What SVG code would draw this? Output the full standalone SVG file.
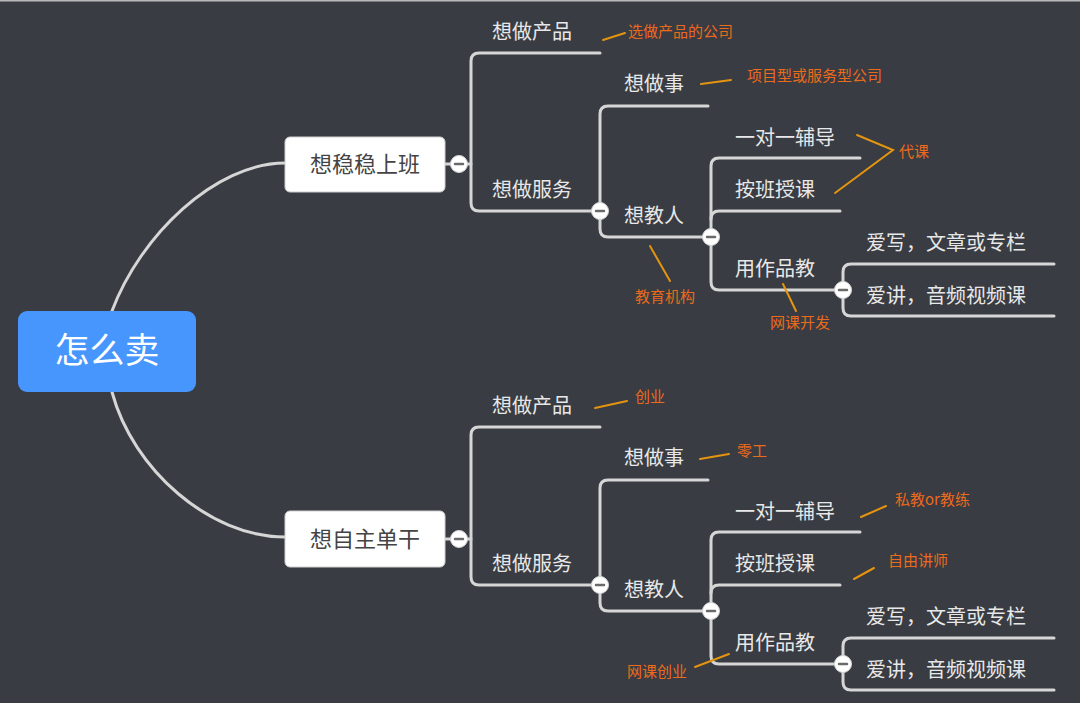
<svg xmlns="http://www.w3.org/2000/svg" width="1080" height="703" viewBox="0 0 1080 703">
<style>
.bg{fill:#393c42}
.ln{fill:none;stroke:#d6d6d6;stroke-width:3;stroke-linecap:round}
.an{fill:none;stroke:#e5940f;stroke-width:2;stroke-linecap:round}
.t{font-family:"Noto Sans CJK SC","Noto Sans",sans-serif;font-size:20px;fill:#e8e8e8}
.a{font-family:"Noto Sans CJK SC","Noto Sans",sans-serif;font-size:15px;fill:#ec6a1c}
.bx{fill:#ffffff;stroke:#cfcfcf;stroke-width:1}
.bt{font-family:"Noto Sans CJK SC","Noto Sans",sans-serif;font-size:22px;fill:#444444;text-anchor:middle}
.cb{fill:#ffffff;stroke:#d6d6d6;stroke-width:1}
.cm{stroke:#6a6a6a;stroke-width:2.5;stroke-linecap:round}
</style>
<defs>
<g id="btn"><circle class="cb" r="8.5"/><line class="cm" x1="-4" y1="0" x2="4" y2="0"/></g>
</defs>
<rect class="bg" x="0" y="0" width="1080" height="703"/>
<rect x="0" y="0" width="1080" height="1.5" fill="#b9b9b9"/>

<g id="connectors">
<path class="ln" d="M112,311 C140,236 215,163 285,163"/>
<path class="ln" d="M112,392 C133,470 210,537 285,537"/>
<!-- upper -->
<path class="ln" d="M445,164 H471"/>
<path class="ln" d="M600,53 H479 Q471,53 471,61 V203 Q471,211 479,211 H600"/>
<path class="ln" d="M708,106 H608 Q600,106 600,114 V229 Q600,237 608,237 H711"/>
<path class="ln" d="M860,158 H719 Q711,158 711,166 V282 Q711,290 719,290 H843"/>
<path class="ln" d="M711,219 Q711,211 719,211 H840"/>
<path class="ln" d="M1054,264 H851 Q843,264 843,272 V308 Q843,316 851,316 H1054"/>
<!-- lower -->
<path class="ln" d="M445,539 H471"/>
<path class="ln" d="M600,427 H479 Q471,427 471,435 V577 Q471,585 479,585 H600"/>
<path class="ln" d="M708,480 H608 Q600,480 600,488 V603 Q600,611 608,611 H711"/>
<path class="ln" d="M860,532 H719 Q711,532 711,540 V656 Q711,664 719,664 H843"/>
<path class="ln" d="M711,593 Q711,585 719,585 H840"/>
<path class="ln" d="M1054,638 H851 Q843,638 843,646 V682 Q843,690 851,690 H1054"/>
<!-- annotation lines upper -->
<path class="an" d="M603,40 L625,33"/>
<path class="an" d="M701,84 L731,80"/>
<path class="an" d="M857,135 L893,150 L835,193"/>
<path class="an" d="M650,246 L670,281"/>
<path class="an" d="M783,284 L796,311"/>
<!-- annotation lines lower -->
<path class="an" d="M595,408 L627,401"/>
<path class="an" d="M700,459 L729,454"/>
<path class="an" d="M861,517 L886,506"/>
<path class="an" d="M854,579 L874,568"/>
<path class="an" d="M695,667 L729,654"/>
</g>

<g id="root">
<rect x="18" y="311" width="178" height="81" rx="9" fill="#4696fd"/>
<text x="107" y="363" font-family="'Noto Sans CJK SC','Noto Sans',sans-serif" font-size="35" fill="#ffffff" text-anchor="middle">怎么卖</text>
</g>

<g id="n-up">
<rect class="bx" x="285" y="137" width="160" height="55" rx="5"/>
<text class="bt" x="365" y="172">想稳稳上班</text>
<use href="#btn" x="459" y="164"/>
</g>
<g id="n-up-prod"><text class="t" x="492" y="38.6">想做产品</text></g>
<g id="n-up-prod-note"><text class="a" x="628" y="36.7">选做产品的公司</text></g>
<g id="n-up-serv"><text class="t" x="492" y="196.6">想做服务</text><use href="#btn" x="600" y="211"/></g>
<g id="n-up-do"><text class="t" x="624" y="90.6">想做事</text></g>
<g id="n-up-do-note"><text class="a" x="747" y="80.7">项目型或服务型公司</text></g>
<g id="n-up-teach"><text class="t" x="624" y="222.6">想教人</text><use href="#btn" x="711" y="237"/></g>
<g id="n-up-teach-note"><text class="a" x="635" y="301.7">教育机构</text></g>
<g id="n-up-1on1"><text class="t" x="735" y="144.6">一对一辅导</text></g>
<g id="n-up-class"><text class="t" x="735" y="196.6">按班授课</text></g>
<g id="n-up-daike"><text class="a" x="899" y="156.7">代课</text></g>
<g id="n-up-works"><text class="t" x="735" y="275.6">用作品教</text><use href="#btn" x="843" y="290"/></g>
<g id="n-up-works-note"><text class="a" x="770" y="327.7">网课开发</text></g>
<g id="n-up-write"><text class="t" x="866" y="249.6">爱写，文章或专栏</text></g>
<g id="n-up-talk"><text class="t" x="866" y="302.6">爱讲，音频视频课</text></g>

<g id="n-lo">
<rect class="bx" x="285" y="511" width="160" height="56" rx="5"/>
<text class="bt" x="365" y="547">想自主单干</text>
<use href="#btn" x="459" y="539"/>
</g>
<g id="n-lo-prod"><text class="t" x="492" y="412.6">想做产品</text></g>
<g id="n-lo-prod-note"><text class="a" x="635" y="401.7">创业</text></g>
<g id="n-lo-serv"><text class="t" x="492" y="570.6">想做服务</text><use href="#btn" x="600" y="585"/></g>
<g id="n-lo-do"><text class="t" x="624" y="464.6">想做事</text></g>
<g id="n-lo-do-note"><text class="a" x="737" y="455.7">零工</text></g>
<g id="n-lo-teach"><text class="t" x="624" y="596.6">想教人</text><use href="#btn" x="711" y="611"/></g>
<g id="n-lo-1on1"><text class="t" x="735" y="518.6">一对一辅导</text></g>
<g id="n-lo-1on1-note"><text class="a" x="895" y="504.7">私教or教练</text></g>
<g id="n-lo-class"><text class="t" x="735" y="570.6">按班授课</text></g>
<g id="n-lo-class-note"><text class="a" x="888" y="565.7">自由讲师</text></g>
<g id="n-lo-works"><text class="t" x="735" y="649.6">用作品教</text><use href="#btn" x="843" y="664"/></g>
<g id="n-lo-works-note"><text class="a" x="627" y="676.7">网课创业</text></g>
<g id="n-lo-write"><text class="t" x="866" y="623.6">爱写，文章或专栏</text></g>
<g id="n-lo-talk"><text class="t" x="866" y="676.6">爱讲，音频视频课</text></g>
</svg>
